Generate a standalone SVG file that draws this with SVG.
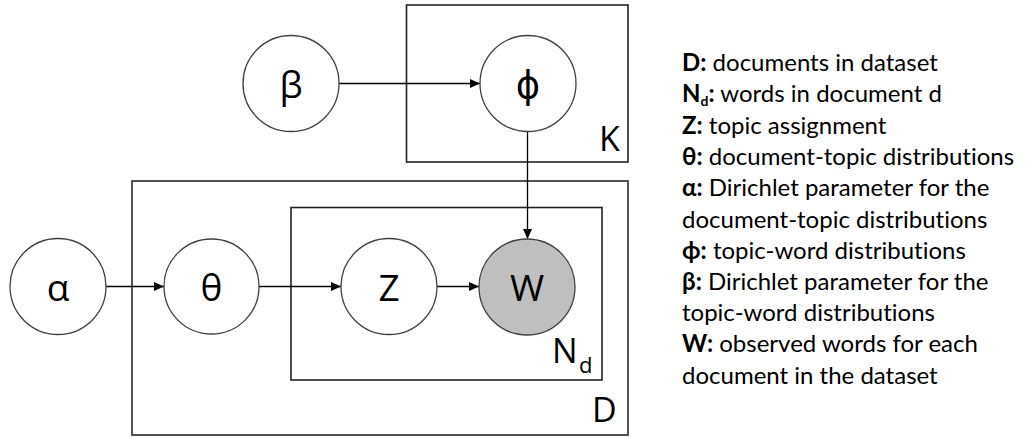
<svg xmlns="http://www.w3.org/2000/svg" width="1025" height="437" viewBox="0 0 1025 437">
  <style>
    .node { fill: #ffffff; stroke: #404040; stroke-width: 1.3; }
    .obs { fill: #bfbfbf; stroke: #404040; stroke-width: 1.3; }
    .plate { fill: none; stroke: #222222; stroke-width: 1.6; }
    .lbl { font-family: "Open Sans", "DejaVu Sans", sans-serif; font-size: 37px; fill: #000; text-anchor: middle; }
    .plbl { font-family: "Open Sans", "DejaVu Sans", sans-serif; font-size: 34px; fill: #000; }
    .sub { font-family: "Open Sans", "DejaVu Sans", sans-serif; font-size: 22px; fill: #000; }
    .edge { fill: none; stroke: #000; stroke-width: 1.3; marker-end: url(#arr); }
    .leg { font-family: "Lato", "Liberation Sans", sans-serif; font-size: 24px; fill: #000; font-variant-ligatures: none; }
    .b { font-weight: bold; }
  </style>
  <defs>
    <marker id="arr" markerUnits="userSpaceOnUse" markerWidth="10" markerHeight="9" refX="10" refY="4.5" orient="auto">
      <path d="M0,0 L10,4.5 L0,9 z" fill="#000"/>
    </marker>
  </defs>
  <rect width="1025" height="437" fill="#ffffff"/>

  <g id="plate-K">
    <rect class="plate" x="406.5" y="5" width="221.5" height="157"/>
    <text class="plbl" x="599" y="151">K</text>
  </g>
  <g id="plate-D">
    <rect class="plate" x="132" y="181" width="496" height="254" style="stroke:#404040;stroke-width:1.8"/>
    <text class="plbl" x="592" y="422">D</text>
  </g>
  <g id="plate-Nd">
    <rect class="plate" x="291" y="207.5" width="311" height="172.5"/>
    <text class="plbl" x="552" y="363">N</text>
    <text class="sub" x="579" y="373">d</text>
  </g>

  <g id="connectors">
    <line class="edge" x1="339" y1="83.5" x2="480" y2="83.5"/>
    <line class="edge" x1="527.5" y1="131" x2="527.5" y2="239"/>
    <line class="edge" x1="106" y1="286.5" x2="164" y2="286.5"/>
    <line class="edge" x1="259" y1="286.5" x2="341" y2="286.5"/>
    <line class="edge" x1="437" y1="286.5" x2="479" y2="286.5"/>
  </g>

  <g id="node-beta">
    <circle class="node" cx="291" cy="83.5" r="48"/>
    <text class="lbl" x="291" y="97.5">β</text>
  </g>
  <g id="node-phi">
    <circle class="node" cx="528" cy="83.5" r="48"/>
    <text class="lbl" x="528" y="97.5">ϕ</text>
  </g>
  <g id="node-alpha">
    <circle class="node" cx="58" cy="286.5" r="48"/>
    <text class="lbl" x="58" y="300.5">α</text>
  </g>
  <g id="node-theta">
    <circle class="node" cx="211.5" cy="286.5" r="47.5"/>
    <text class="lbl" x="211.5" y="300.5">θ</text>
  </g>
  <g id="node-Z">
    <circle class="node" cx="389" cy="286.5" r="48"/>
    <text class="lbl" x="389" y="300.5">Z</text>
  </g>
  <g id="node-W">
    <circle class="obs" cx="527" cy="287" r="48"/>
    <text class="lbl" x="527" y="301">W</text>
  </g>

  <g id="legend">
    <text class="leg" x="682" y="71"><tspan class="b">D:</tspan> documents in dataset</text>
    <text class="leg" x="682" y="102"><tspan class="b">N</tspan><tspan class="b" font-size="14" dy="4">d</tspan><tspan class="b" dy="-4">:</tspan> words in document d</text>
    <text class="leg" x="682" y="133.5"><tspan class="b">Z:</tspan> topic assignment</text>
    <text class="leg" x="682" y="165"><tspan class="b">θ:</tspan> document-topic distributions</text>
    <text class="leg" x="682" y="196"><tspan class="b">α:</tspan> Dirichlet parameter for the</text>
    <text class="leg" x="682" y="227.5">document-topic distributions</text>
    <text class="leg" x="682" y="259"><tspan class="b">ϕ:</tspan> topic-word distributions</text>
    <text class="leg" x="682" y="290"><tspan class="b">β:</tspan> Dirichlet parameter for the</text>
    <text class="leg" x="682" y="321">topic-word distributions</text>
    <text class="leg" x="682" y="352"><tspan class="b">W:</tspan> observed words for each</text>
    <text class="leg" x="682" y="383.5">document in the dataset</text>
  </g>
</svg>
